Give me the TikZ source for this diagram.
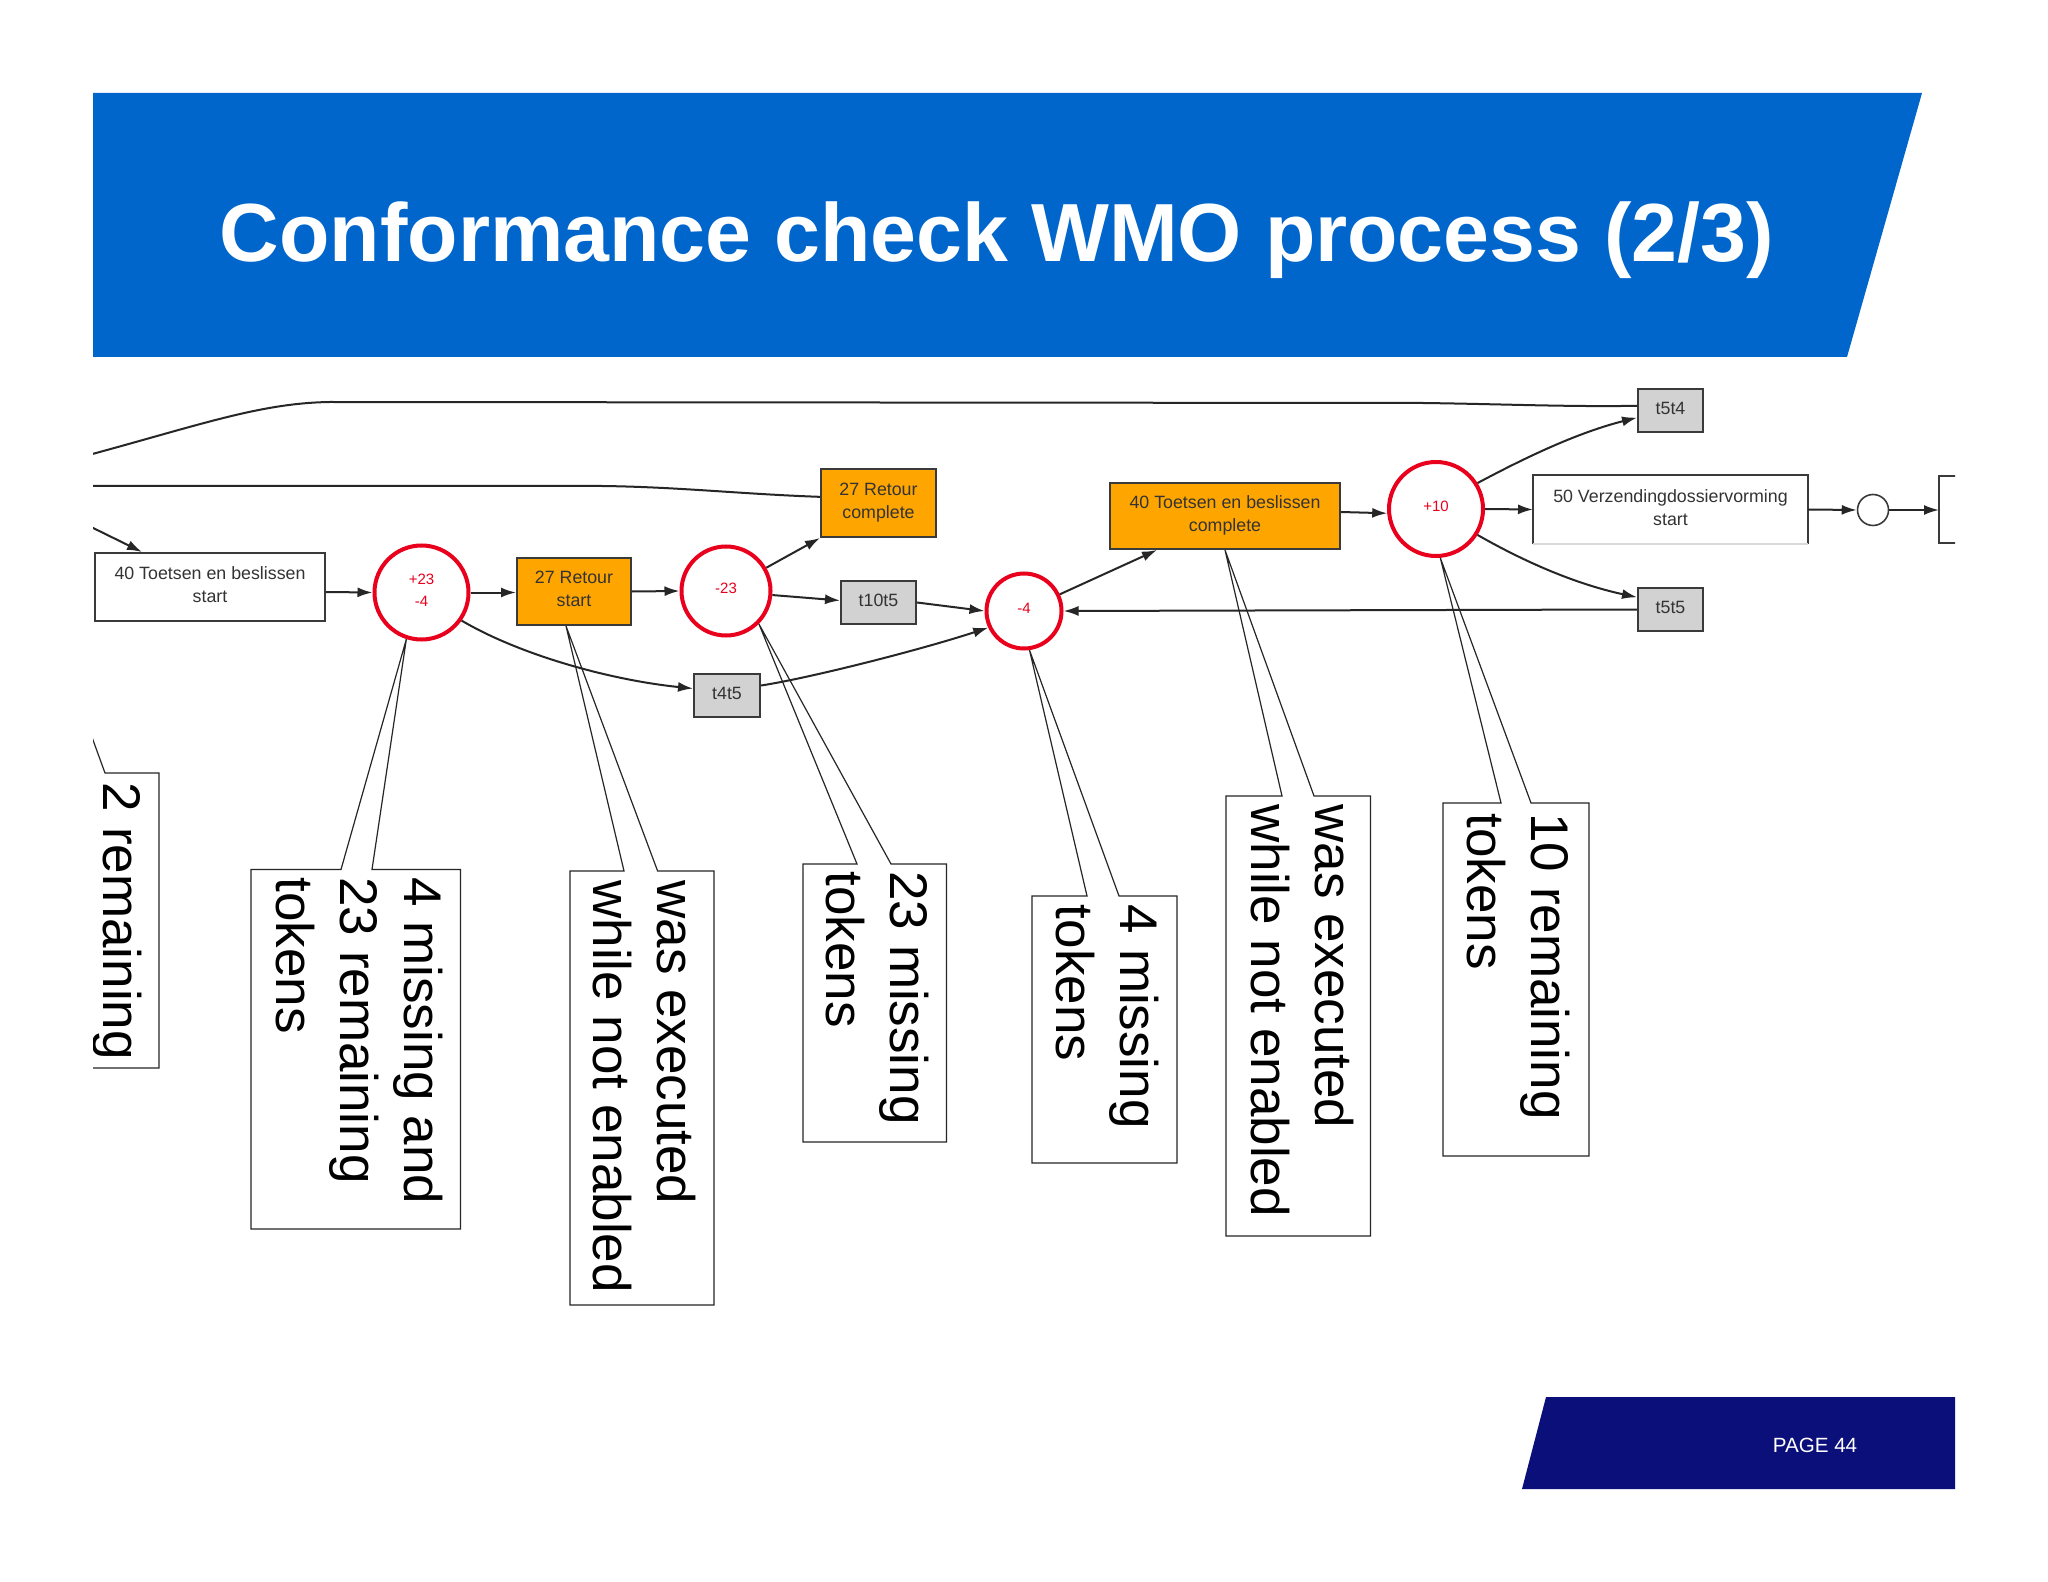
\documentclass[tikz,border=0pt]{standalone}
\usepackage{fontspec}
\setmainfont{Liberation Sans}
\usetikzlibrary{arrows.meta,calc}
\definecolor{hdr}{HTML}{0066CC}
\definecolor{ftr}{HTML}{0B0F7A}
\definecolor{org}{HTML}{FFA500}
\definecolor{gry}{HTML}{D2D2D2}
\definecolor{edgeg}{HTML}{3A3A3A}
\definecolor{txtg}{HTML}{333333}
\definecolor{redc}{HTML}{E8001C}
\newcommand\lift{\rule[-2.4pt]{0pt}{2.4pt}}
\tikzset{
  box/.style={draw=edgeg,line width=1pt,inner sep=0pt,align=center,text=txtg,font=\fontsize{8.9}{11.5}\selectfont},
  plainbox/.style={box,fill=white},
  orangebox/.style={box,fill=org,text=black!80},
  graybox/.style={box,fill=gry},
  place/.style={circle,draw=redc,line width=2pt,inner sep=0pt,align=center,text=redc,font=\fontsize{7.5}{11}\selectfont},
  smallplace/.style={circle,draw=edgeg,line width=0.8pt,inner sep=0pt,minimum size=15.5pt},
  flow/.style={draw=black!85,line width=1pt,-{Latex[length=7.5pt,width=5pt]}},
  plainflow/.style={draw=black!85,line width=1pt},
  callout/.style={draw=black!85,line width=0.6pt},
  calltext/.style={rotate=-90,anchor=north west,inner sep=0pt,align=left,text=black,font=\fontsize{26.5}{32}\selectfont},
  headtext/.style={text=white,inner sep=0pt,font=\fontsize{41.25}{48}\selectfont\bfseries},
  pagetext/.style={text=white,inner sep=0pt,font=\fontsize{10.3}{12}\selectfont}
}
\begin{document}
\begin{tikzpicture}[x=0.5pt,y=-0.5pt]
\useasboundingbox (0,0) rectangle (2048,1582);
\fill[white] (0,0) rectangle (2048,1582);
% header and footer
\fill[hdr] (93,93) -- (1922,93) -- (1847,357) -- (93,357) -- cycle;
\node[headtext,anchor=base] (title) at (997,262) {Conformance check WMO process (2/3)};
\fill[ftr] (1546,1397) -- (1955,1397) -- (1955,1489) -- (1522,1489) -- cycle;
\node[pagetext] (page) at (1815,1445) {PAGE 44};
\begin{scope}
\clip (93,380) rectangle (1955,1330);
% nodes
\node[plainbox,minimum width=115pt,minimum height=34pt] (A) at (210,587) {40 Toetsen en beslissen\\start\lift};
\node[place,minimum size=47pt] (c1) at (421.5,592.5) {+23\\-4\lift};
\node[orangebox,minimum width=57pt,minimum height=33.5pt] (Rs) at (574,591.5) {27 Retour\\start\lift};
\node[place,minimum size=44.5pt] (c2) at (726,591) {-23\lift};
\node[orangebox,minimum width=57.5pt,minimum height=34pt] (Rc) at (878.5,503) {27 Retour\\complete};
\node[graybox,minimum width=37.5pt,minimum height=21.5pt] (t105) at (878.5,602.5) {t10t5\lift};
\node[graybox,minimum width=33pt,minimum height=21.5pt] (t45) at (727,695.5) {t4t5\lift};
\node[place,minimum size=37.5pt] (c3) at (1024,611) {-4\lift};
\node[orangebox,minimum width=115pt,minimum height=33pt] (Tc) at (1225,516) {40 Toetsen en beslissen\\complete\lift};
\node[place,minimum size=47pt] (c4) at (1436,509) {+10\lift};
\node[graybox,minimum width=32.5pt,minimum height=21.5pt] (t54) at (1670.5,410.5) {t5t4\lift};
\node[graybox,minimum width=32.5pt,minimum height=21.5pt] (t55) at (1670.5,609.5) {t5t5\lift};
\node[box,draw=none,minimum width=136.5pt,minimum height=33.5pt] (V) at (1670.5,509.5) {50 Verzendingdossiervorming\\start\lift};
\draw[edgeg,line width=1pt] (V.south west) -- (V.north west) -- (V.north east) -- (V.south east);
\draw[black!15,line width=0.8pt] (V.south west) -- (V.south east);
\node[smallplace] (p) at (1873,510) {};
\coordinate (rnw) at (1939,476);
\coordinate (rw) at (1939,510);
\coordinate (rsw) at (1939,543);
\draw[edgeg,line width=1pt] (1960,476) -- (rnw) -- (rsw) -- (1960,543);
% free ends of cut connectors
\coordinate (f1) at (85,456);
\coordinate (f2) at (85,486);
\coordinate (f3) at (85,524);
\coordinate (f0) at (85,718);
% callouts
\coordinate (k0) at (105,773);
\draw[callout] (f0) -- (k0) -- (159,773) -- (159,1068) -- (88,1068);
\node[calltext] (n0) at (149,782.5) {\strut 2 remaining};
\draw[callout] (251,869.5) -- (341,869.5) -- (c1.252) -- (372,869.5) -- (460.5,869.5) -- (460.5,1229) -- (251,1229) -- cycle;
\node[calltext] (n1) at (450,877) {\strut 4 missing and\\23 remaining\\tokens};
\draw[callout] (570,871) -- (624,871) -- ([xshift=-4pt]Rs.south) -- (657.6,871) -- (714,871) -- (714,1305) -- (570,1305) -- cycle;
\node[calltext] (n2) at (702.5,880) {\strut was executed\\while not enabled};
\draw[callout] (803,864) -- (857,864) -- (c2.-45) -- (891,864) -- (946.5,864) -- (946.5,1142) -- (803,1142) -- cycle;
\node[calltext] (n3) at (935.5,871) {\strut 23 missing\\tokens};
\draw[callout] (1032,896) -- (1087,896) -- (c3.-82) -- (1119,896) -- (1177,896) -- (1177,1163) -- (1032,1163) -- cycle;
\node[calltext] (n4) at (1165.5,904.5) {\strut 4 missing\\tokens};
\draw[callout] (1226,796) -- (1282,796) -- (Tc.south) -- (1314,796) -- (1370.5,796) -- (1370.5,1236) -- (1226,1236) -- cycle;
\node[calltext] (n5) at (1360.5,804) {\strut was executed\\while not enabled};
\draw[callout] (1443,803) -- (1501,803) -- (c4.-85) -- (1531,803) -- (1589,803) -- (1589,1156) -- (1443,1156) -- cycle;
\node[calltext] (n6) at (1577,813) {\strut 10 remaining\\tokens};
% connectors
\draw[plainflow] (f1) .. controls (200,425) and (260,403) .. (330,402) -- (1423,403) .. controls (1500,404) and (1570,407) .. (t54.172);
\draw[plainflow] (f2) -- (602,486) .. controls (680,487) and (740,494) .. (Rc.174);
\draw[flow] (f3) -- ([xshift=24pt]A.north west);
\draw[flow] ([yshift=-2.5pt]A.east) -- (c1.west);
\draw[flow] (c1.east) -- ([yshift=-0.5pt]Rs.west);
\draw[flow] (Rs.east) -- (c2.west);
\draw[flow] (c2.30) -- (Rc.south west);
\draw[flow] (c2.-5) -- ([yshift=1pt]t105.west);
\draw[flow] (t105.east) -- (c3.west);
\draw[flow] (c1.-35) .. controls (520,655) and (610,680) .. ([yshift=3.5pt]t45.west);
\draw[flow] ([yshift=5pt]t45.east) .. controls (810,678) and (920,650) .. (c3.205);
\draw[flow] (c3.25) -- ([xshift=24pt]Tc.south west);
\draw[flow] ([yshift=2pt]Tc.east) -- (c4.185);
\draw[flow] (c4.east) -- (V.west);
\draw[flow] (V.east) -- (p.west);
\draw[flow] (p.east) -- (rw);
\draw[flow] (c4.32) .. controls (1530,455) and (1580,432) .. (t54.192);
\draw[flow] (c4.-32) .. controls (1530,565) and (1580,585) .. (t55.160);
\draw[flow] (t55.west) -- (c3.east);
\end{scope}
\end{tikzpicture}
\end{document}
